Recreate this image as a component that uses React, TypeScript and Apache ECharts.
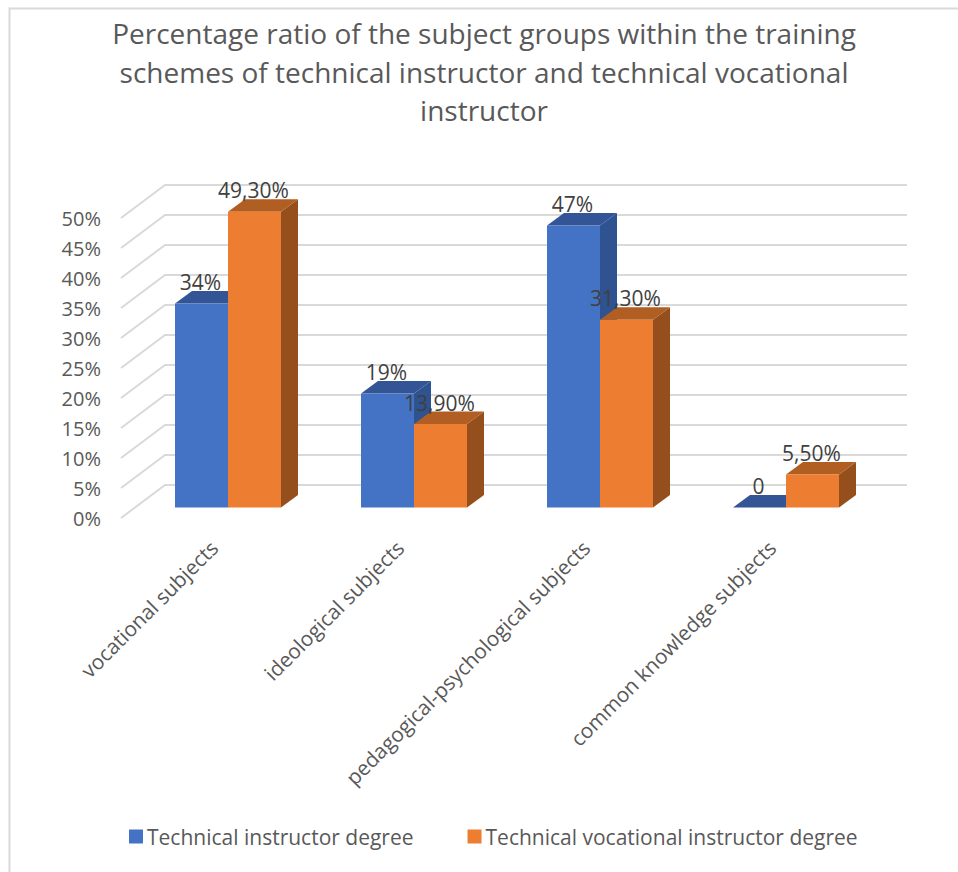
import React, { useEffect, useRef } from "react";
import * as echarts from "echarts";

const titleLines = [
  "Percentage ratio of the subject groups within the training",
  "schemes of technical instructor and technical vocational",
  "instructor",
];
const categories = [
  "vocational subjects",
  "ideological subjects",
  "pedagogical-psychological subjects",
  "common knowledge subjects",
];
const instructorName = "Technical instructor degree";
const vocationalName = "Technical vocational instructor degree";
const instructorValues = [34, 19, 47, 0];
const vocationalValues = [49.3, 13.9, 31.3, 5.5];
const instructorLabels = ["34%", "19%", "47%", "0"];
const vocationalLabels = ["49,30%", "13,90%", "31,30%", "5,50%"];
const ticks = [0, 5, 10, 15, 20, 25, 30, 35, 40, 45, 50];

const FONT = '"Open Sans", sans-serif';
const WALL_DX = 44;
const WALL_DY = 33;
const INSET_DX = 14;
const INSET_DY = 10.5;
const DEPTH_DX = 17;
const DEPTH_DY = 12.5;
const BAR_W = 53;

function barRenderer(
  side: -1 | 0,
  labels: string[],
  front: string,
  top: string,
  right: string,
) {
  return (params: any, api: any) => {
    const idx = api.value(0);
    const val = api.value(1);
    const t = api.coord([idx, val]);
    const b = api.coord([idx, 0]);
    const x0 = t[0] + INSET_DX + side * BAR_W;
    const x1 = x0 + BAR_W;
    const yT = t[1] - INSET_DY;
    const yB = b[1] - INSET_DY;
    const poly = (points: number[][], fill: string) => ({
      type: "polygon",
      shape: { points },
      style: { fill, stroke: null },
    });
    return {
      type: "group",
      children: [
        poly(
          [
            [x1, yT],
            [x1 + DEPTH_DX, yT - DEPTH_DY],
            [x1 + DEPTH_DX, yB - DEPTH_DY],
            [x1, yB],
          ],
          right,
        ),
        poly(
          [
            [x0, yT],
            [x0 + DEPTH_DX, yT - DEPTH_DY],
            [x1 + DEPTH_DX, yT - DEPTH_DY],
            [x1, yT],
          ],
          top,
        ),
        poly(
          [
            [x0, yT],
            [x1, yT],
            [x1, yB],
            [x0, yB],
          ],
          front,
        ),
        {
          type: "text",
          z2: 100,
          style: {
            x: (x0 + x1) / 2 - 1,
            y: yT - 21.5,
            text: labels[params.dataIndex],
            fill: "#404040",
            font: `21px ${FONT}`,
            align: "center",
            verticalAlign: "middle",
          },
        },
      ],
    };
  };
}

function wallRenderer(params: any, api: any) {
  const v = api.value(0);
  const p = api.coord([0, v]);
  const cs = params.coordSys;
  const y = p[1];
  return {
    type: "polyline",
    shape: {
      points: [
        [cs.x, y],
        [cs.x + WALL_DX, y - WALL_DY],
        [cs.x + cs.width - 2 + WALL_DX, y - WALL_DY],
      ],
    },
    style: { stroke: "#d9d9d9", lineWidth: 2, fill: null },
  };
}

export default function App() {
  const ref = useRef<HTMLDivElement>(null);
  useEffect(() => {
    document.body.style.margin = "0";
    const chart = echarts.init(ref.current!, undefined, { renderer: "svg" });
    chart.setOption({
      animation: false,
      backgroundColor: "#ffffff",
      title: {
        text: titleLines.join("\n"),
        left: 479,
        top: 9,
        textAlign: "center",
        textStyle: {
          fontFamily: FONT,
          fontSize: 28,
          fontWeight: "normal",
          color: "#595959",
          lineHeight: 38.5,
        },
      },
      legend: {
        data: [instructorName, vocationalName],
        left: 124,
        top: 821,
        itemWidth: 14,
        itemHeight: 14,
        itemGap: 54,
        icon: "rect",
        textStyle: {
          fontFamily: FONT,
          fontSize: 21,
          color: "#595959",
          padding: [0, 0, 0, -1],
        },
      },
      grid: { left: 121, top: 218, width: 744, height: 300, containLabel: false },
      xAxis: {
        type: "category",
        data: categories,
        axisLine: { show: false },
        axisTick: { show: false },
        axisLabel: {
          rotate: 45,
          interval: 0,
          margin: 26,
          fontFamily: FONT,
          fontSize: 20.7,
          color: "#595959",
        },
      },
      yAxis: {
        type: "value",
        min: 0,
        max: 50,
        interval: 5,
        splitLine: { show: false },
        axisLine: { show: false },
        axisTick: { show: false },
        axisLabel: {
          formatter: "{value}%",
          margin: 20,
          fontFamily: FONT,
          fontSize: 20,
          color: "#595959",
        },
      },
      graphic: [
        {
          type: "rect",
          silent: true,
          z: -1,
          shape: { x: 9.5, y: 8.5, width: 1000, height: 1000 },
          style: { fill: "none", stroke: "#d9d9d9", lineWidth: 2 },
        },
      ],
      series: [
        {
          type: "custom",
          name: "wall",
          silent: true,
          z: 1,
          coordinateSystem: "cartesian2d",
          encode: { y: 0 },
          data: ticks.map((v) => [v]),
          renderItem: wallRenderer,
        },
        {
          type: "custom",
          name: instructorName,
          z: 2,
          coordinateSystem: "cartesian2d",
          encode: { x: 0, y: 1 },
          itemStyle: { color: "#4472c4" },
          data: instructorValues.map((v, i) => [i, v]),
          renderItem: barRenderer(-1, instructorLabels, "#4472c4", "#335596", "#2f5291"),
        },
        {
          type: "custom",
          name: vocationalName,
          z: 3,
          coordinateSystem: "cartesian2d",
          encode: { x: 0, y: 1 },
          itemStyle: { color: "#ed7d31" },
          data: vocationalValues.map((v, i) => [i, v]),
          renderItem: barRenderer(0, vocationalLabels, "#ed7d31", "#b15e22", "#954f1c"),
        },
      ],
    });
    return () => chart.dispose();
  }, []);
  return <div ref={ref} style={{ width: 958, height: 872 }} />;
}
